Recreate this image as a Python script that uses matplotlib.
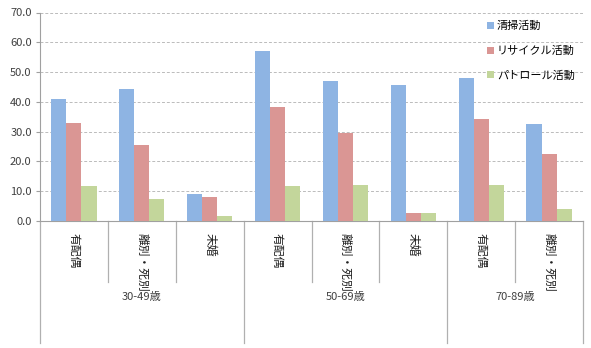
import numpy as np
import matplotlib
matplotlib.use('Agg')
import matplotlib.pyplot as plt
from matplotlib.lines import Line2D

plt.rcParams['font.family'] = ['Noto Sans CJK JP', 'DejaVu Sans']

groups = ['30-49歳', '50-69歳', '70-89歳']
group_sizes = [3, 3, 2]
categories = ['有配偶', '離別・死別', '未婚',
              '有配偶', '離別・死別', '未婚',
              '有配偶', '離別・死別']
series_names = ['清掃活動', 'リサイクル活動', 'パトロール活動']
cleaning = [40.9, 44.3, 9.0, 57.1, 47.1, 45.6, 48.1, 32.4]
recycling = [32.8, 25.6, 8.0, 38.3, 29.4, 2.6, 34.2, 22.4]
patrol = [11.7, 7.3, 1.7, 11.8, 12.1, 2.6, 12.1, 3.9]

colors = ['#8EB4E3', '#DA9694', '#C3D69B']

fig = plt.figure(figsize=(5.91, 3.48), dpi=100)
ax = fig.add_axes([40 / 591, 1 - 221 / 348, 543 / 591, 208.5 / 348])

x = np.arange(len(categories)) + 0.5
w = 0.222
for k, vals in enumerate([cleaning, recycling, patrol]):
    ax.bar(x + (k - 1) * w, vals, w, color=colors[k], label=series_names[k], zorder=3)

ax.set_xlim(0, len(categories))
ax.set_ylim(0, 70)
ax.set_yticks(np.arange(0, 71, 10))
ax.set_yticklabels([f'{v:.1f}' for v in np.arange(0, 71, 10)], fontsize=8, color='#404040')
ax.yaxis.grid(True, linestyle=(0, (3, 2)), color='#BBBBBB', linewidth=0.7, zorder=0)
ax.tick_params(axis='y', length=3, color='#A0A0A0', pad=3)
ax.set_xticks([])
for s in ['top', 'right']:
    ax.spines[s].set_visible(False)
ax.spines['left'].set_color('#A0A0A0')
ax.spines['bottom'].set_color('#A0A0A0')

# multi-level category axis
trans = ax.get_xaxis_transform()
px = 1 / 208.5  # one pixel in axes-fraction units
outer = [0]
for n in group_sizes:
    outer.append(outer[-1] + n)
for i in range(len(categories) + 1):
    if i in outer:
        y_end = -122 * px
    else:
        y_end = -61 * px
    ax.add_line(Line2D([i, i], [0, y_end], transform=trans, color='#B0B0B0',
                       linewidth=0.9, clip_on=False))
for i, lab in enumerate(categories):
    ax.text(i + 0.5, -12 * px, lab, transform=trans, rotation=270, ha='center',
            va='top', fontsize=8.5, color='#202020')
for j, g in enumerate(groups):
    cx = (outer[j] + outer[j + 1]) / 2
    ax.text(cx, -76 * px, g, transform=trans, ha='center', va='center',
            fontsize=8, color='#404040')

leg = ax.legend(loc='upper left', bbox_to_anchor=(0.815, 0.98), frameon=False,
                fontsize=8, handlelength=0.6, handleheight=0.6,
                handletextpad=0.3, labelspacing=1.3, borderaxespad=0)

fig.savefig('out.png', dpi=100)
